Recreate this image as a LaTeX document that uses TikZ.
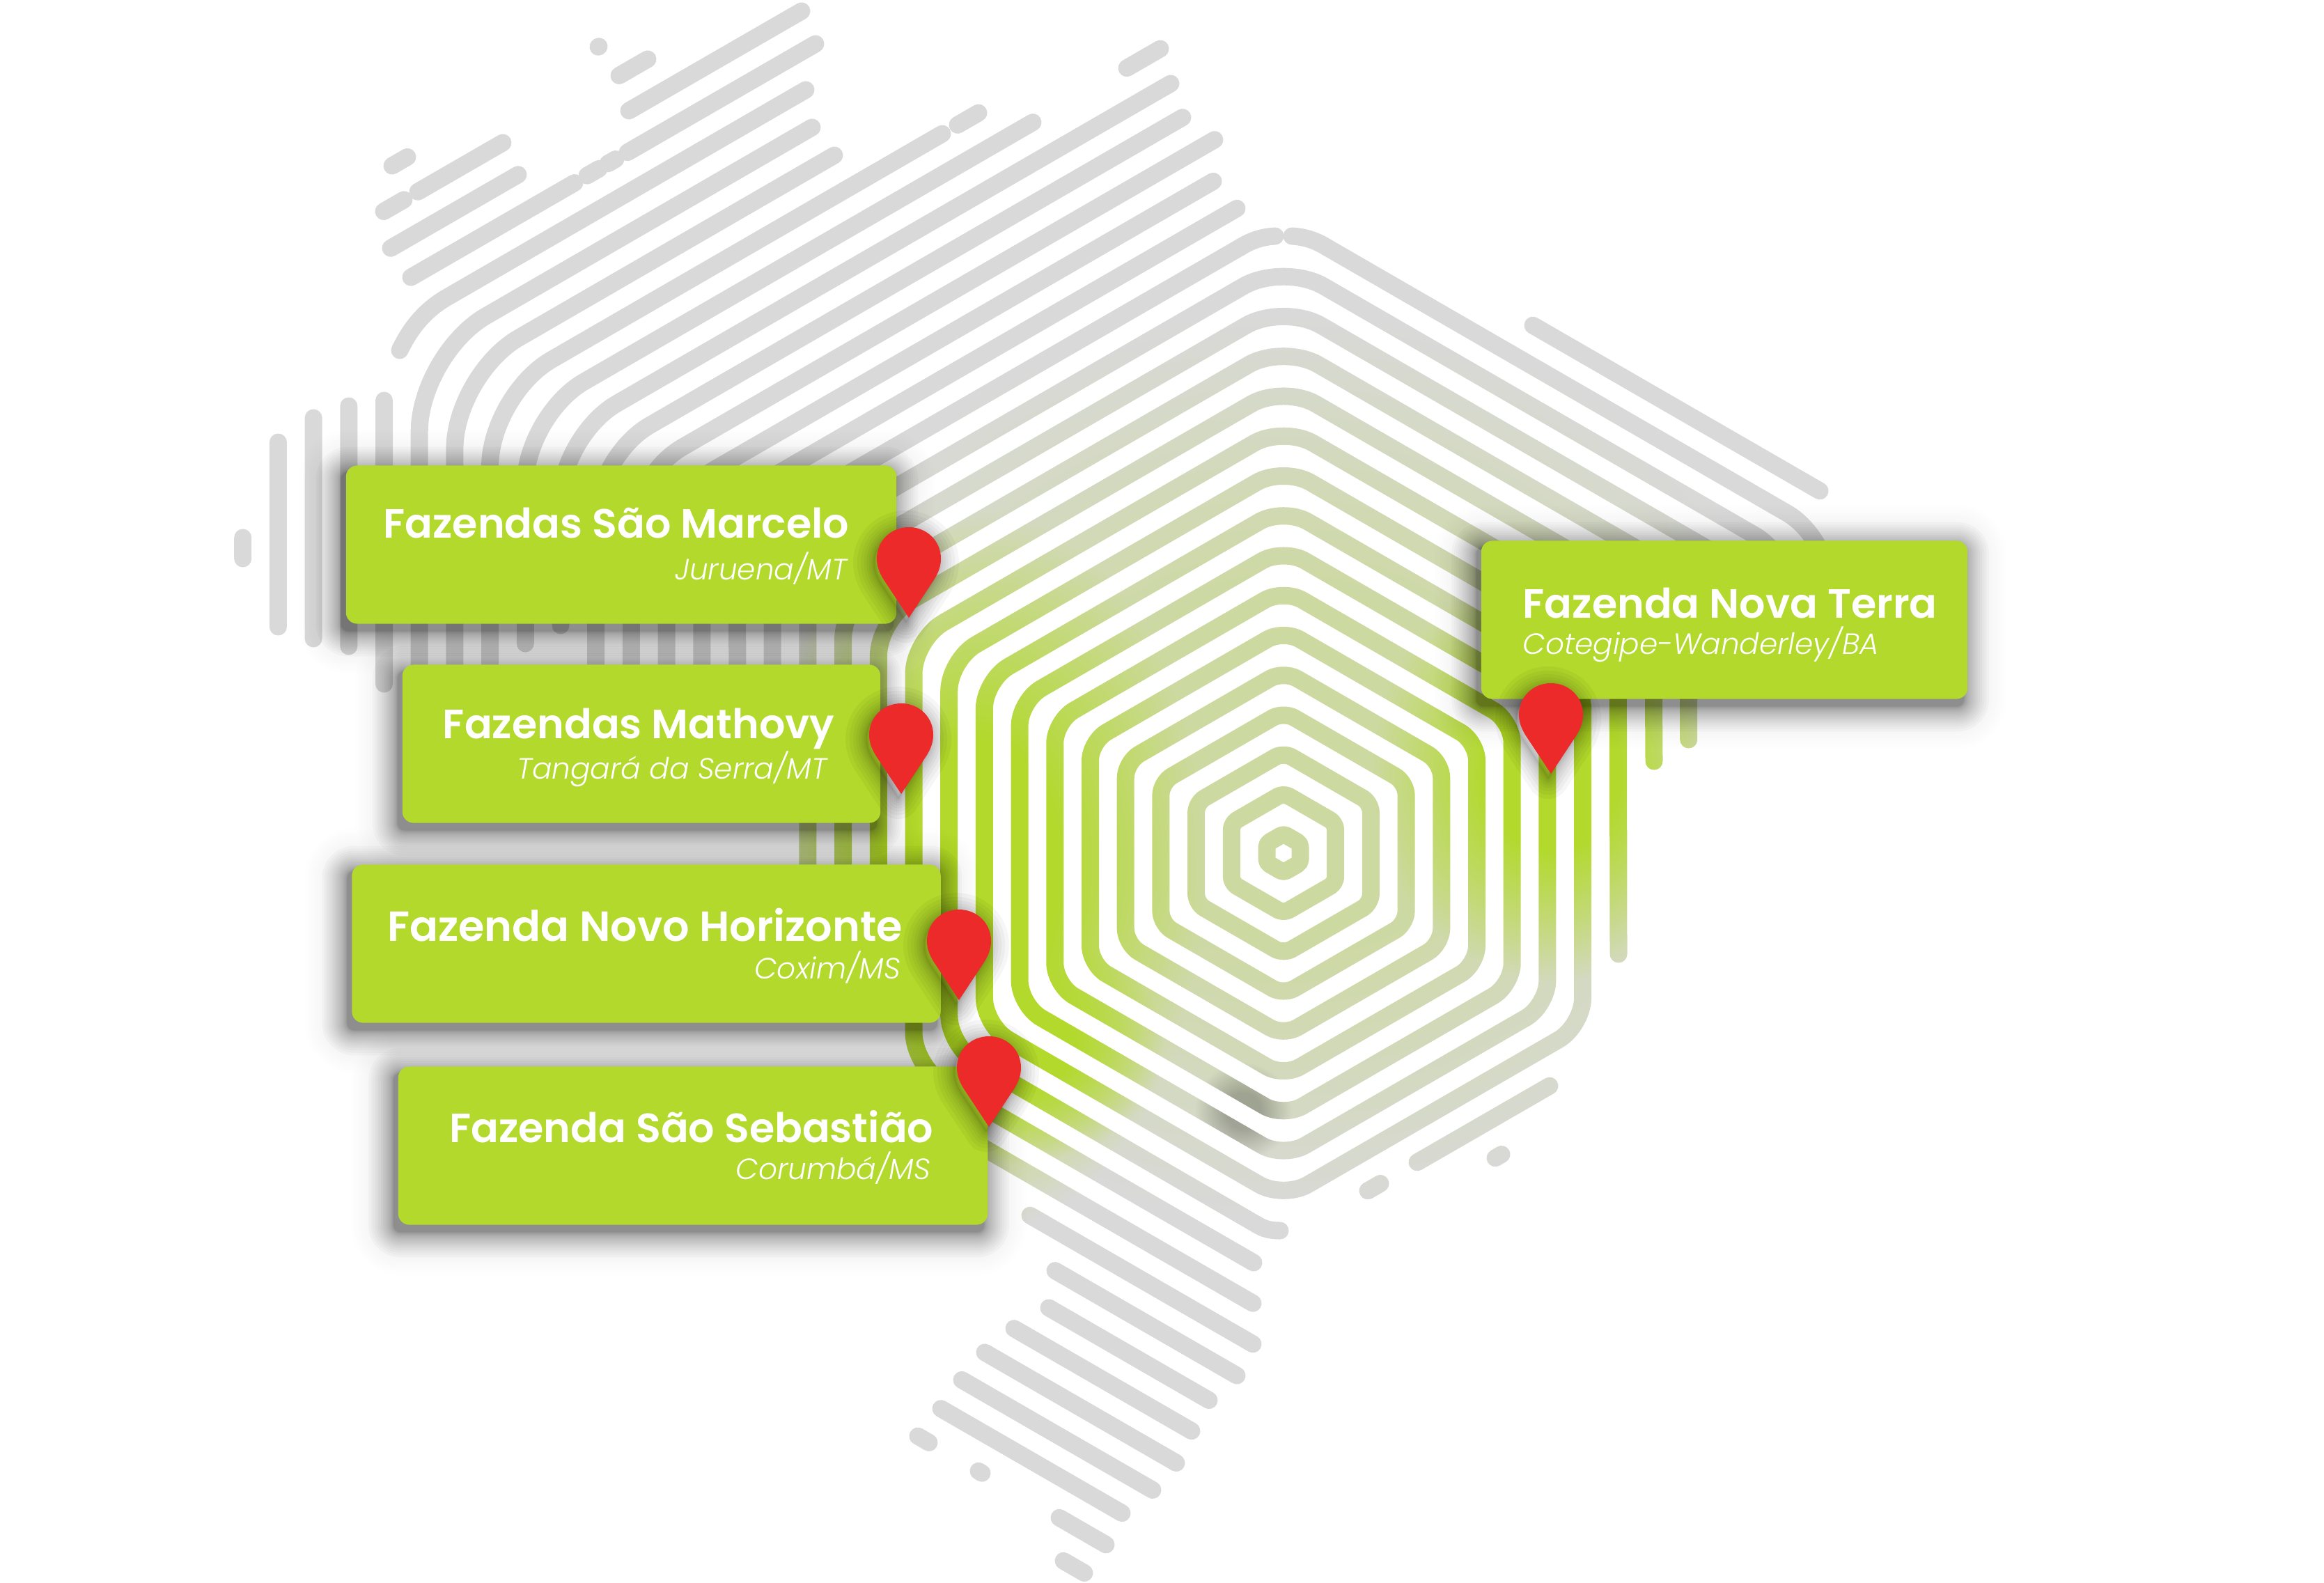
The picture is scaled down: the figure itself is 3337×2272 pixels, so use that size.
\documentclass[tikz,border=0pt]{standalone}
\usepackage{fontspec}
\setmainfont{Poppins}
\newfontface\semib{Poppins SemiBold}
\newfontface\lightit{Poppins Light Italic}
\usetikzlibrary{backgrounds}

\definecolor{leaf}{HTML}{B2D92B}
\definecolor{pinred}{HTML}{EC2A2A}

\newcommand{\spotps}[5]{%
	2 index #1 sub #3 div dup mul 2 index #2 sub #4 div dup mul add sqrt
	1 exch sub 0.64 div dup 1 gt {pop 1} if dup 0 lt {pop 0} if #5 mul }

\pgfdeclarefunctionalshading{stripefield}{\pgfpoint{-50bp}{-50bp}}{\pgfpoint{50bp}{50bp}}{}{
	25 exch sub 46.64 mul 30 sub exch 25 add 67.94 mul 30 sub exch
	1
	\spotps{1843}{1100}{750}{650}{0.33} 1 exch sub mul
	\spotps{1400}{1250}{330}{520}{1} 1 exch sub mul
	\spotps{1460}{1500}{210}{170}{1} 1 exch sub mul
	\spotps{2230}{1110}{260}{300}{1} 1 exch sub mul
	\spotps{1785}{1595}{70}{70}{0.25} 1 exch sub
	exch dup 0.153 mul 0.698 add exch 0.682 mul 0.169 add
	exch 2 index mul exch 2 index mul 2 index 0.851 mul exch
	6 3 roll pop pop pop
}

\tikzset{
	strand/.style = {line width = 0.25cm, line cap = round, line join = round},
	farmbox/.style = {rectangle, fill = leaf, rounded corners = 0.16cm, inner sep = 0pt},
	title/.style = {text = white, font = \semib\fontsize{16.7}{19}\selectfont, anchor = base east, inner sep = 0pt},
	place/.style = {text = white, font = \lightit\fontsize{12}{14}\selectfont, anchor = base east, inner sep = 0pt}
}

\newcommand{\hexk}[1]{%
	\pgfmathsetmacro{\hw}{24+50.7*#1}%
	\pgfmathsetmacro{\rc}{5+4.4*#1}%
	\coordinate (ml) at (1843-\hw,1225);
	\coordinate (tl) at (1843-\hw,1225-.577*\hw);
	\coordinate (t) at (1843,1225-1.1547*\hw);
	\coordinate (tr) at (1843+\hw,1225-.577*\hw);
	\coordinate (br) at (1843+\hw,1225+.577*\hw);
	\coordinate (b) at (1843,1225+1.1547*\hw);
	\coordinate (bl) at (1843-\hw,1225+.577*\hw);
}

\newcommand{\strandset}{%
	\foreach \k in {0,...,8}{
		\hexk{\k}
		\draw[strand, rounded corners = \rc*0.01cm] (ml) -- (tl) -- (t) -- (tr) -- (br) -- (b) -- (bl) -- cycle;
	}
	\hexk{9}
	\draw[strand, rounded corners = \rc*0.01cm] (1804,1758) -- (bl) -- (tl) -- (t) -- (tr) -- (2324,1370);
	\draw[strand] (1838,1767) .. controls (1825,1767) and (1815,1765) .. (1804,1758);
	\hexk{10}
	\draw[strand, rounded corners = \rc*0.01cm] (1800,1813) -- (bl) -- (tl) -- (t) -- (tr) -- (2375,1093);
	\foreach \k/\ybot/\yend in {11/1300/1062,12/1300/950,13/1300/950,14/1100/950}{
		\hexk{\k}
		\draw[strand, rounded corners = \rc*0.01cm] (1843-\hw,\ybot) -- (tl) -- (t) -- (tr) -- (1843+\hw,\yend);
	}
	\hexk{15}
	\draw[strand, rounded corners = \rc*0.01cm] (1059,1100) -- (tl) -- (1781,355);
	\draw[strand] (1781,355) .. controls (1797,345) and (1813,340) .. (1831,339);
	\draw[strand] (1855,339) .. controls (1873,340) and (1889,345) .. (1905,355);
	\draw[strand, rounded corners = \rc*0.01cm] (1905,355) -- (tr) -- (2627,950);
	\foreach \k/\ybot/\xend in {16/1100/1776,17/1100/1742,18/1100/1744,19/1100/1698,20/898/1681,21/924/1483,22/1100/1353,23/1100/1198,24/1100/1166}{
		\hexk{\k}
		\pgfmathsetmacro{\yend}{1225-1.1547*\hw+.577*(1843-\xend)}
		\draw[strand, rounded corners = \rc*0.01cm] (1843-\hw,\ybot) -- (tl) -- (\xend,\yend);
	}
	\hexk{25}
	\draw[strand] (1157,129) -- (640,428) .. controls (610,446) and (590,470) .. (574,503);
	\foreach \k/\ya/\yb in {25/575/982,26/583/928,27/600/917,28/635/900,29/772/802}{
		\hexk{\k}
		\draw[strand] (1843-\hw,\ya) -- (1843-\hw,\yb);
	}
	\foreach \k/\xa/\xb in {21/1666/1618,22/1405/1375,26/1171/901,26/884/873,26/860/843,26/825/590,27/1151/903,27/744/561,28/930/889,28/722/600,28/580/551,29/859/860,29/585/563}{
		\hexk{\k}
		\pgfmathsetmacro{\ya}{1225-1.1547*\hw+.577*(1843-\xa)}
		\pgfmathsetmacro{\yb}{1225-1.1547*\hw+.577*(1843-\xb)}
		\draw[strand] (\xa,\ya) -- (\xb,\yb);
	}
	\foreach \k/\xa/\xb in {11/1400/1799,12/1479/1799,13/1515/1776,14/1506/1736,15/1456/1711,16/1414/1689,17/1381/1655,18/1351/1611,19/1318/1334,19/1405/1410,19/1521/1588,20/1527/1557}{
		\hexk{\k}
		\pgfmathsetmacro{\ya}{1225+1.1547*\hw-.577*(1843-\xa)}
		\pgfmathsetmacro{\yb}{1225+1.1547*\hw-.577*(1843-\xb)}
		\draw[strand] (\xa,\ya) -- (\xb,\yb);
	}
	\foreach \k/\xa/\xb in {16/2201/2613}{
		\hexk{\k}
		\pgfmathsetmacro{\ya}{1225-1.1547*\hw+.577*(\xa-1843)}
		\pgfmathsetmacro{\yb}{1225-1.1547*\hw+.577*(\xb-1843)}
		\draw[strand] (\xa,\ya) -- (\xb,\yb);
	}
	\foreach \k/\xa/\xb in {9/2225/2035,9/1982/1964,10/2156/2147}{
		\hexk{\k}
		\pgfmathsetmacro{\ya}{1225+1.1547*\hw-.577*(\xa-1843)}
		\pgfmathsetmacro{\yb}{1225+1.1547*\hw-.577*(\xb-1843)}
		\draw[strand] (\xa,\ya) -- (\xb,\yb);
	}
}

\newcommand{\boxshadow}[1]{%
	\foreach \s in {1,...,20}{
		\pgfmathsetmacro{\e}{.09*\s*\s}
		\fill[black, opacity = .022, rounded corners = (10+\e)*0.01cm]
			([shift={({-6-\e},{10-\e})}]#1.north west) rectangle ([shift={({-6+\e},{10+\e})}]#1.south east);
	}
	\foreach \e in {37,40,...,61}{
		\fill[black, opacity = .005, rounded corners = (10+\e)*0.01cm]
			([shift={({-6-\e},{10-\e})}]#1.north west) rectangle ([shift={({-6+\e},{10+\e})}]#1.south east);
	}
}

\newcommand{\pinpath}{(0,0) -- (-37,-56) .. controls (-43,-66) and (-46,-75) .. (-46,-85) .. controls (-46,-110) and (-26,-130) .. (0,-130) .. controls (26,-130) and (46,-110) .. (46,-85) .. controls (46,-75) and (43,-66) .. (37,-56) -- cycle}

\newcommand{\mappin}[1]{%
	\begin{scope}[shift={(#1)}]
		\foreach \s in {1,...,10}{
			\draw[black, opacity = .035, line width = .006*\s*\s*1cm, line join = round, shift={(-4,6)}] \pinpath;
		}
		\fill[pinred] \pinpath;
	\end{scope}
}

\begin{document}
\begin{tikzpicture}[x=0.01cm, y=-0.01cm]

	\useasboundingbox (0,0) rectangle (3337,2272);

	\node[farmbox, minimum width = 7.90cm, minimum height = 2.27cm] (marcelo) at (892,782) {};
	\node[farmbox, minimum width = 6.86cm, minimum height = 2.27cm] (mathovy) at (921,1068) {};
	\node[farmbox, minimum width = 8.45cm, minimum height = 2.27cm] (horizonte) at (928,1355) {};
	\node[farmbox, minimum width = 8.46cm, minimum height = 2.27cm] (sebastiao) at (995,1645) {};
	\node[farmbox, minimum width = 6.98cm, minimum height = 2.27cm] (novaterra) at (2476,890) {};

	\mappin{1305,887}
	\mappin{1294,1140}
	\mappin{1377,1436}
	\mappin{1420,1618}
	\mappin{2227,1111}

	\node[title] (marcelotitle) at (1220,772) {Fazendas São Marcelo};
	\node[place] (marceloplace) at (1217,832) {Juruena/MT};
	\node[title] (mathovytitle) at (1199,1060) {Fazendas Mathovy};
	\node[place] (mathovyplace) at (1188,1118) {Tangará da Serra/MT};
	\node[title, font = \semib\fontsize{17.2}{19}\selectfont] (horizontetitle) at (1297,1351) {Fazenda Novo Horizonte};
	\node[place] (horizonteplace) at (1294,1405) {Coxim/MS};
	\node[title] (sebastiaotitle) at (1341,1640) {Fazenda São Sebastião};
	\node[place] (sebastiaoplace) at (1337,1693) {Corumbá/MS};
	\node[title, anchor = base west] (novaterratitle) at (2186,887) {Fazenda Nova Terra};
	\node[place, anchor = base west] (novaterraplace) at (2186,939) {Cotegipe-Wanderley/BA};

	\begin{pgfonlayer}{background}
		\begin{scope}[transparency group]
			\fill[white] (-60,-60) rectangle (3397,2332);
			\begin{scope}[color = black]
				\strandset
			\end{scope}
			\begin{scope}[blend mode = screen]
				\shade[shading = stripefield] (-30,-30) rectangle (3367,2302);
			\end{scope}
		\end{scope}
		\boxshadow{marcelo}
		\boxshadow{mathovy}
		\boxshadow{horizonte}
		\boxshadow{sebastiao}
		\boxshadow{novaterra}
	\end{pgfonlayer}

\end{tikzpicture}
\end{document}
